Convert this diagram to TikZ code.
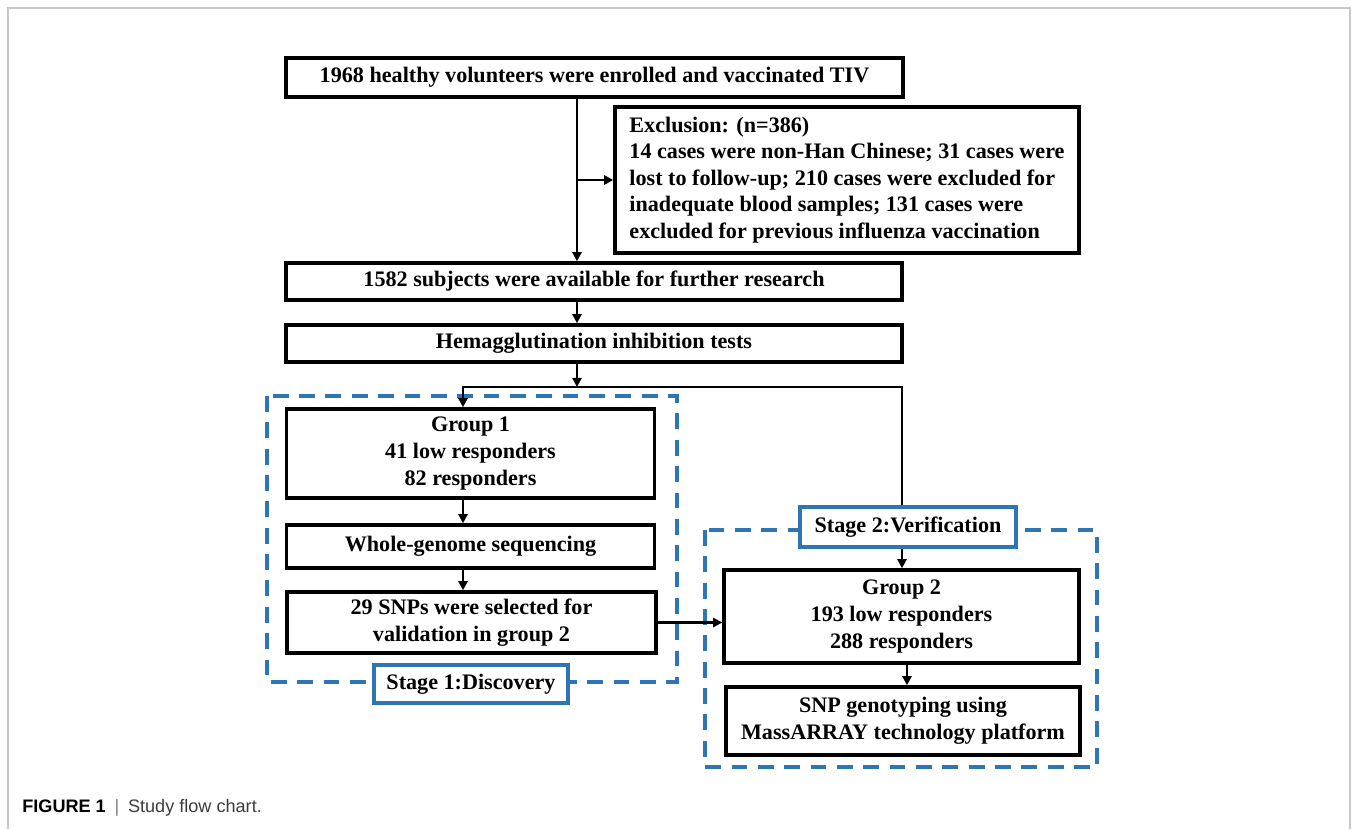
\documentclass[tikz,border=0pt]{standalone}
\usepackage{fontspec}
\setmainfont{Liberation Serif}
\setsansfont{Liberation Sans}
\usetikzlibrary{arrows.meta}
\definecolor{stageblue}{RGB}{46,117,182}
\definecolor{framegray}{RGB}{200,200,200}
\definecolor{capgray}{RGB}{60,60,60}

\begin{document}
\begin{tikzpicture}[x=0.02cm, y=-0.02cm,
    box/.style={draw, rectangle, line width=2pt, align=center, inner sep=2pt,
        font=\bfseries\fontsize{12.6}{15.1}\selectfont},
    stagebox/.style={box, draw=stageblue, fill=white},
    stagefrm/.style={draw=stageblue, line width=1.9pt, dash pattern=on 9pt off 6pt},
    conn/.style={line width=1.3pt, -{Triangle[length=5.2pt,width=5.2pt]}}]
    \useasboundingbox (0,0) rectangle (1355,829);
    \draw[framegray, line width=0.6pt] (8,829) -- (8,8) -- (1350,8) -- (1350,829);

    % dashed stage frames
    \draw[stagefrm] (267,396) rectangle (677,682);
    \draw[stagefrm] (705,530) rectangle (1097,767);

    \node[box, minimum width=12.34cm, minimum height=0.78cm] (enrol) at (594.5,77.5) {1968 healthy volunteers were enrolled and vaccinated TIV};
    \node[box, align=left, minimum width=9.28cm, minimum height=2.92cm] (excl) at (847,180) {Exclusion: (n=386)\\
        14 cases were non-Han Chinese; 31 cases were\\
        lost to follow-up; 210 cases were excluded for\\
        inadequate blood samples; 131 cases were\\
        excluded for previous influenza vaccination};
    \node[box, minimum width=12.32cm, minimum height=0.74cm] (avail) at (594,281.5) {1582 subjects were available for further research};
    \node[box, minimum width=12.32cm, minimum height=0.74cm] (hai) at (594,343.5) {Hemagglutination inhibition tests};

    \node[box, minimum width=7.36cm, minimum height=1.78cm] (grpone) at (470.5,453.5) {Group 1\\41 low responders\\82 responders};
    \node[box, minimum width=7.36cm, minimum height=0.86cm] (wgs) at (470.5,546.5) {Whole-genome sequencing};
    \node[box, minimum width=7.38cm, minimum height=1.22cm] (snps) at (471.5,622.5) {29 SNPs were selected for\\validation in group 2};
    \node[stagebox, minimum width=3.88cm, minimum height=0.76cm] (stageone) at (471,684) {Stage 1:Discovery};

    \node[stagebox, minimum width=4.32cm, minimum height=0.8cm] (stagetwo) at (908,527) {Stage 2:Verification};
    \node[box, minimum width=7.1cm, minimum height=1.86cm] (grptwo) at (901.5,616.5) {Group 2\\193 low responders\\288 responders};
    \node[box, minimum width=7.08cm, minimum height=1.36cm] (geno) at (903,721) {SNP genotyping using\\MassARRAY technology platform};

    \node[anchor=west, inner sep=0pt, font=\sffamily\fontsize{10.3}{12}\selectfont] (cap) at (22,808)
        {\textbf{FIGURE 1}\hspace{5pt}{\color{gray}|}\hspace{5pt}{\color{capgray}Study flow chart.}};

    % connectors
    \coordinate (spine) at (577,0);
    \coordinate (split) at (0,387);
    \coordinate (gonex) at (463,0);
    \coordinate (gtwox) at (902,0);
    \coordinate (genox) at (907,0);
    \draw[conn] (enrol.south -| spine) -- (avail.north -| spine);
    \draw[conn] (spine |- excl.west) -- (excl.west);
    \draw[conn] (avail.south -| spine) -- (hai.north -| spine);
    \draw[conn] (hai.south -| spine) -- (split -| spine);
    \draw[conn] (stagetwo.north -| gtwox) |- (split -| gonex) -- (grpone.north -| gonex);
    \draw[conn] (grpone.south -| gonex) -- (wgs.north -| gonex);
    \draw[conn] (wgs.south -| gonex) -- (snps.north -| gonex);
    \draw[conn] (snps.east) -- (grptwo.west |- snps.east);
    \draw[conn] (stagetwo.south -| gtwox) -- (grptwo.north -| gtwox);
    \draw[conn] (grptwo.south -| genox) -- (geno.north -| genox);
\end{tikzpicture}
\end{document}
